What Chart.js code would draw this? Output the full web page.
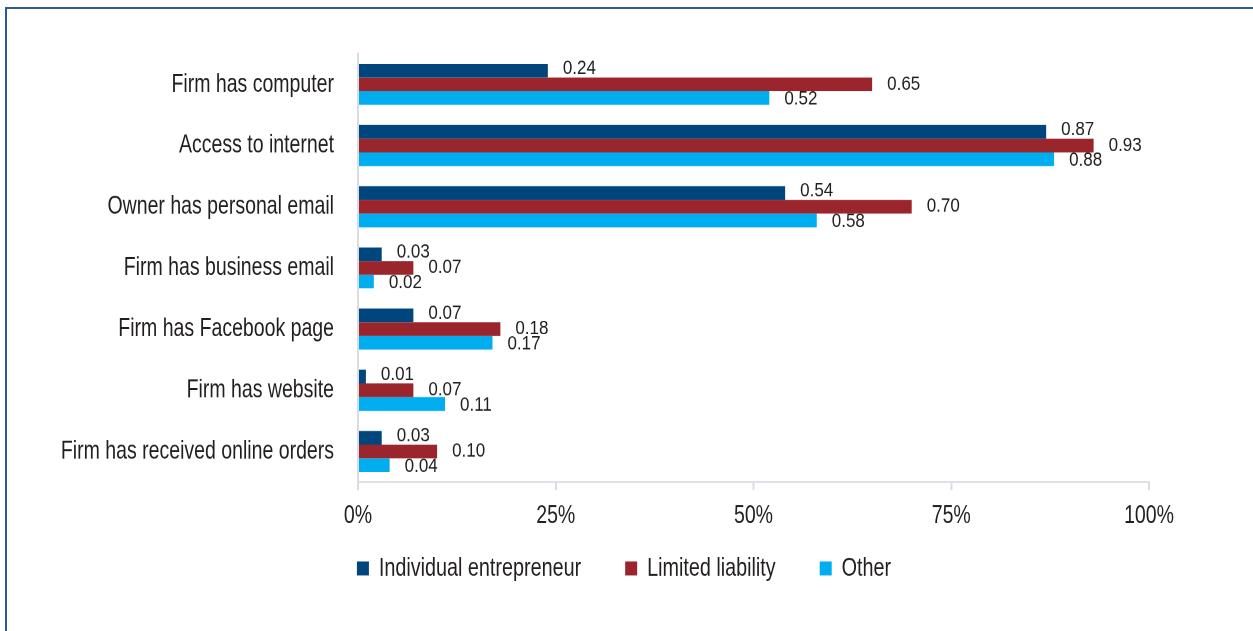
<!DOCTYPE html>
<html>
<head>
<meta charset="utf-8">
<script src="https://cdn.jsdelivr.net/npm/chart.js@4/dist/chart.umd.min.js"></script>
<style>
  html, body { margin: 0; padding: 0; background: #ffffff; width: 1253px; height: 631px; overflow: hidden; }
  #frame {
    position: absolute; left: 5px; top: 7px; width: 1300px; height: 700px;
    border-top: 2px solid #2a5b92; border-left: 2px solid #2a5b92; box-sizing: border-box;
  }
  /* The chart is laid out on a shorter stage and stretched to full height,
     which gives the tall, narrow lettering of the printed figure. */
  #stage {
    position: absolute; left: 0; top: 0; width: 1253px; height: 474px;
    transform: scaleY(1.3312); transform-origin: 0 0;
  }
</style>
</head>
<body>
<div id="frame"></div>
<div id="stage"><canvas id="chart"></canvas></div>
<script>
// Share of firms, by legal form
const categories = [
  'Firm has computer',
  'Access to internet',
  'Owner has personal email',
  'Firm has business email',
  'Firm has Facebook page',
  'Firm has website',
  'Firm has received online orders'
];
const individualEntrepreneur = [0.24, 0.87, 0.54, 0.03, 0.07, 0.01, 0.03];
const limitedLiability       = [0.65, 0.93, 0.70, 0.07, 0.18, 0.07, 0.10];
const otherForms             = [0.52, 0.88, 0.58, 0.02, 0.17, 0.11, 0.04];
const seriesNames = ['Individual entrepreneur', 'Limited liability', 'Other'];
const xTickLabels = ['0%', '25%', '50%', '75%', '100%'];

const STRETCH = 1.3312;          // vertical scale applied to #stage
const VALUE_ASPECT = 1.12;       // final vertical stretch of the value labels
const valueShift = [-2, 0, 1.5]; // per-series vertical nudge of value labels (px on screen)

const FONT_FAMILY = '"Liberation Sans", Arial, Helvetica, sans-serif';
const TEXT_COLOR = '#231f20';
const AXIS_COLOR = '#d9dde3';

// Writes each bar's value just past its end.
const valueLabels = {
  id: 'valueLabels',
  afterDatasetsDraw(chart) {
    const ctx = chart.ctx;
    ctx.save();
    ctx.font = '17px ' + FONT_FAMILY;
    ctx.fillStyle = TEXT_COLOR;
    ctx.textAlign = 'left';
    ctx.textBaseline = 'middle';
    chart.data.datasets.forEach((ds, i) => {
      const meta = chart.getDatasetMeta(i);
      meta.data.forEach((bar, j) => {
        ctx.save();
        ctx.translate(bar.x + 15, bar.y + valueShift[i] / STRETCH);
        ctx.scale(1, VALUE_ASPECT / STRETCH);
        ctx.fillText(ds.data[j].toFixed(2), 0, 0);
        ctx.restore();
      });
    });
    ctx.restore();
  }
};

// Pulls the legend up close under the axis and centres it on the page.
const LEGEND_CENTER_X = 624;
const LEGEND_GAP = 11;
const legendPlacement = {
  id: 'legendPlacement',
  afterLayout(chart) {
    const lg = chart.legend;
    if (!lg) return;
    const dx = LEGEND_CENTER_X - (lg.left + lg.right) / 2;
    const dy = (chart.chartArea.bottom + LEGEND_GAP) - lg.top;
    lg.left += dx; lg.right += dx;
    lg.top += dy; lg.bottom += dy;
  }
};

const labelFont = { family: FONT_FAMILY, size: 19.5 };
const legendFont = { family: FONT_FAMILY, size: 19.8 };

new Chart(document.getElementById('chart'), {
  type: 'bar',
  data: {
    labels: categories,
    datasets: [
      { label: seriesNames[0], data: individualEntrepreneur, backgroundColor: '#00457c' },
      { label: seriesNames[1], data: limitedLiability,       backgroundColor: '#9b252c' },
      { label: seriesNames[2], data: otherForms,             backgroundColor: '#00aeef' }
    ]
  },
  options: {
    indexAxis: 'y',
    responsive: true,
    maintainAspectRatio: false,
    animation: false,
    devicePixelRatio: 2,
    datasets: { bar: { categoryPercentage: 0.671, barPercentage: 1.0 } },
    layout: { padding: { left: 40, right: 104, top: 40.4, bottom: -7.3 } },
    scales: {
      x: {
        min: 0, max: 1,
        ticks: {
          stepSize: 0.25,
          padding: 8,
          font: labelFont,
          color: TEXT_COLOR,
          callback: (v, i) => xTickLabels[i]
        },
        grid: { drawOnChartArea: false, drawTicks: true, tickLength: 6, color: AXIS_COLOR, lineWidth: 2 },
        border: { display: true, color: AXIS_COLOR, width: 1.3 }
      },
      y: {
        ticks: { padding: 24, font: labelFont, color: TEXT_COLOR, autoSkip: false },
        grid: { display: false, drawTicks: false },
        border: { display: true, color: AXIS_COLOR, width: 2 },
        afterFit(scale) { scale.width = 318; }
      }
    },
    plugins: {
      legend: {
        position: 'bottom',
        labels: { boxWidth: 12, boxHeight: 10.5, padding: 44, font: legendFont, color: TEXT_COLOR }
      },
      tooltip: { enabled: false }
    }
  },
  plugins: [valueLabels, legendPlacement]
});
</script>
</body>
</html>
